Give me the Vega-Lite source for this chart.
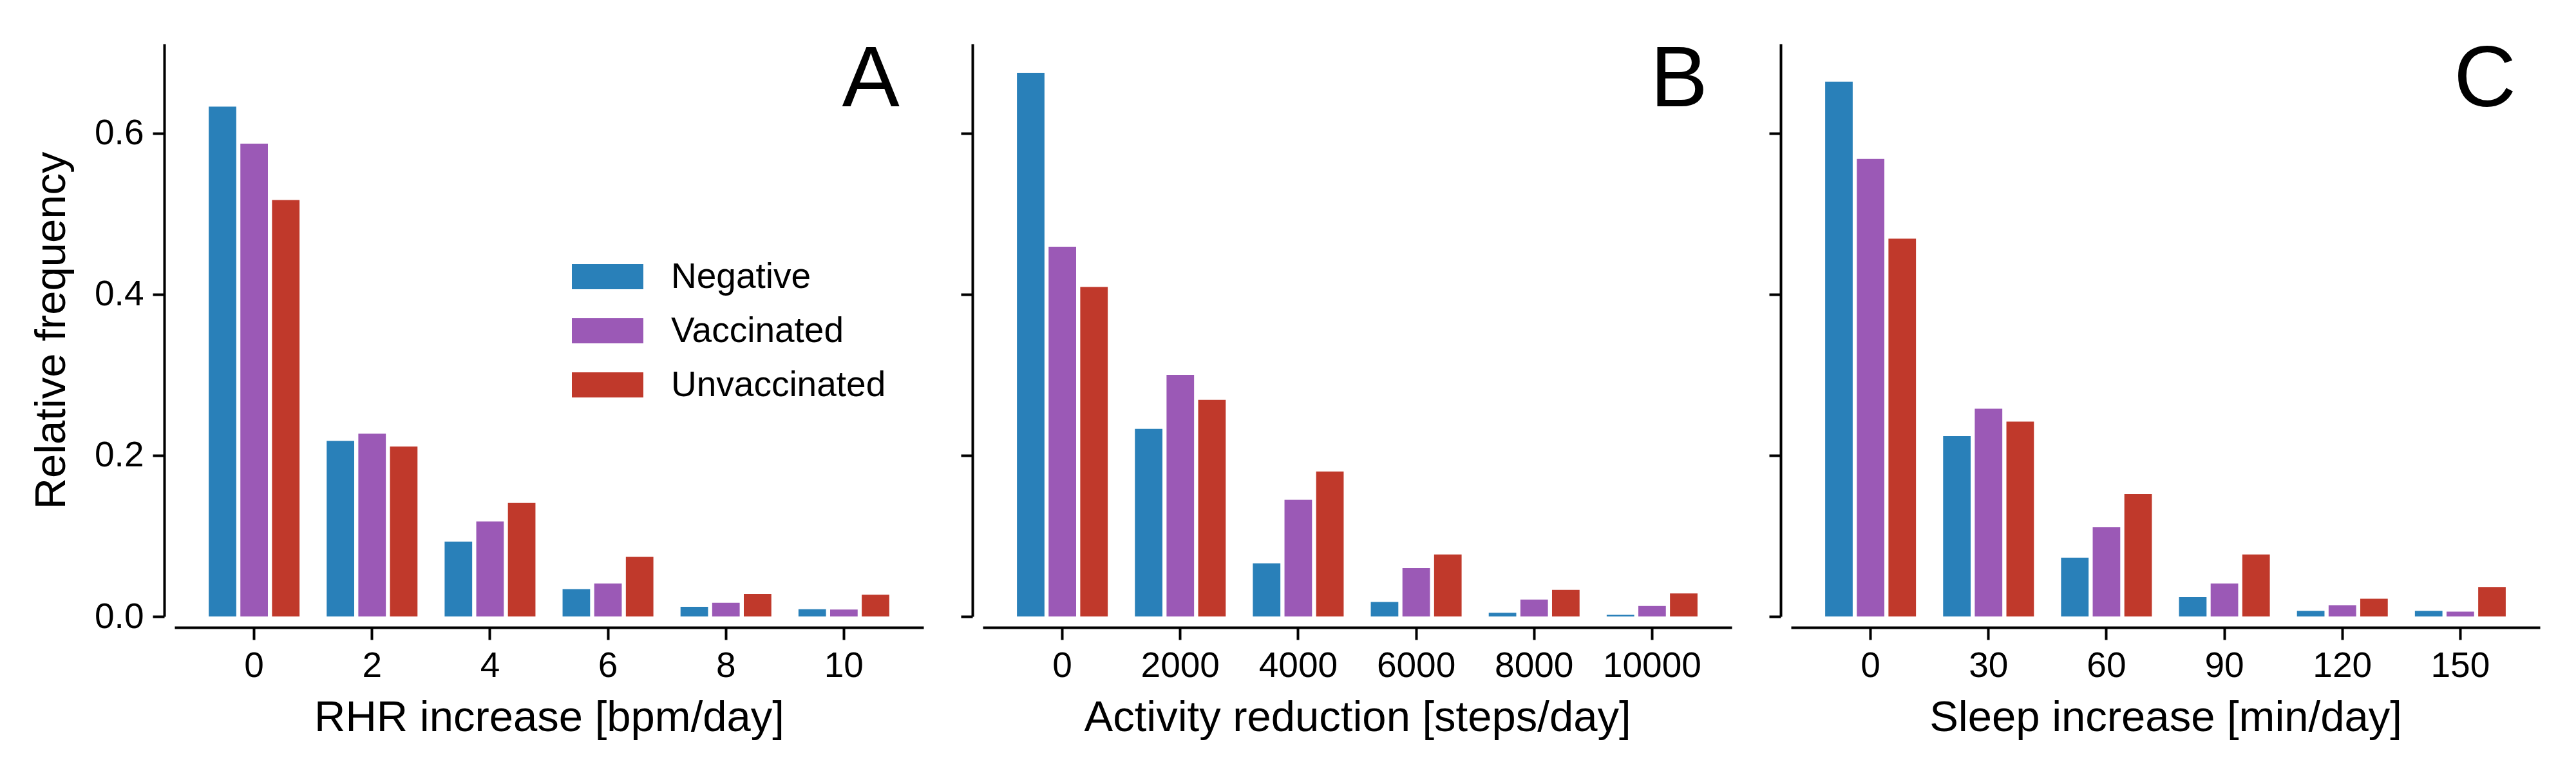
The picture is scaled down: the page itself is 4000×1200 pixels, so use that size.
{
  "$schema": "https://vega.github.io/schema/vega-lite/v6.json",
  "description": "Relative frequency of RHR increase, activity reduction and sleep increase by group.",
  "background": "white",
  "padding": {"left": 46, "top": 58, "right": 10, "bottom": 10},
  "datasets": {
    "freq": [
      {"panel": "A", "bin": 0, "group": "Negative", "freq": 0.633},
      {"panel": "A", "bin": 0, "group": "Vaccinated", "freq": 0.587},
      {"panel": "A", "bin": 0, "group": "Unvaccinated", "freq": 0.517},
      {"panel": "A", "bin": 2, "group": "Negative", "freq": 0.218},
      {"panel": "A", "bin": 2, "group": "Vaccinated", "freq": 0.227},
      {"panel": "A", "bin": 2, "group": "Unvaccinated", "freq": 0.211},
      {"panel": "A", "bin": 4, "group": "Negative", "freq": 0.093},
      {"panel": "A", "bin": 4, "group": "Vaccinated", "freq": 0.118},
      {"panel": "A", "bin": 4, "group": "Unvaccinated", "freq": 0.141},
      {"panel": "A", "bin": 6, "group": "Negative", "freq": 0.034},
      {"panel": "A", "bin": 6, "group": "Vaccinated", "freq": 0.041},
      {"panel": "A", "bin": 6, "group": "Unvaccinated", "freq": 0.074},
      {"panel": "A", "bin": 8, "group": "Negative", "freq": 0.012},
      {"panel": "A", "bin": 8, "group": "Vaccinated", "freq": 0.017},
      {"panel": "A", "bin": 8, "group": "Unvaccinated", "freq": 0.028},
      {"panel": "A", "bin": 10, "group": "Negative", "freq": 0.009},
      {"panel": "A", "bin": 10, "group": "Vaccinated", "freq": 0.0085},
      {"panel": "A", "bin": 10, "group": "Unvaccinated", "freq": 0.027},
      {"panel": "B", "bin": 0, "group": "Negative", "freq": 0.675},
      {"panel": "B", "bin": 0, "group": "Vaccinated", "freq": 0.459},
      {"panel": "B", "bin": 0, "group": "Unvaccinated", "freq": 0.409},
      {"panel": "B", "bin": 2000, "group": "Negative", "freq": 0.233},
      {"panel": "B", "bin": 2000, "group": "Vaccinated", "freq": 0.300},
      {"panel": "B", "bin": 2000, "group": "Unvaccinated", "freq": 0.269},
      {"panel": "B", "bin": 4000, "group": "Negative", "freq": 0.066},
      {"panel": "B", "bin": 4000, "group": "Vaccinated", "freq": 0.145},
      {"panel": "B", "bin": 4000, "group": "Unvaccinated", "freq": 0.180},
      {"panel": "B", "bin": 6000, "group": "Negative", "freq": 0.018},
      {"panel": "B", "bin": 6000, "group": "Vaccinated", "freq": 0.060},
      {"panel": "B", "bin": 6000, "group": "Unvaccinated", "freq": 0.077},
      {"panel": "B", "bin": 8000, "group": "Negative", "freq": 0.0045},
      {"panel": "B", "bin": 8000, "group": "Vaccinated", "freq": 0.021},
      {"panel": "B", "bin": 8000, "group": "Unvaccinated", "freq": 0.033},
      {"panel": "B", "bin": 10000, "group": "Negative", "freq": 0.002},
      {"panel": "B", "bin": 10000, "group": "Vaccinated", "freq": 0.013},
      {"panel": "B", "bin": 10000, "group": "Unvaccinated", "freq": 0.0285},
      {"panel": "C", "bin": 0, "group": "Negative", "freq": 0.664},
      {"panel": "C", "bin": 0, "group": "Vaccinated", "freq": 0.568},
      {"panel": "C", "bin": 0, "group": "Unvaccinated", "freq": 0.469},
      {"panel": "C", "bin": 30, "group": "Negative", "freq": 0.224},
      {"panel": "C", "bin": 30, "group": "Vaccinated", "freq": 0.258},
      {"panel": "C", "bin": 30, "group": "Unvaccinated", "freq": 0.242},
      {"panel": "C", "bin": 60, "group": "Negative", "freq": 0.073},
      {"panel": "C", "bin": 60, "group": "Vaccinated", "freq": 0.111},
      {"panel": "C", "bin": 60, "group": "Unvaccinated", "freq": 0.152},
      {"panel": "C", "bin": 90, "group": "Negative", "freq": 0.024},
      {"panel": "C", "bin": 90, "group": "Vaccinated", "freq": 0.041},
      {"panel": "C", "bin": 90, "group": "Unvaccinated", "freq": 0.077},
      {"panel": "C", "bin": 120, "group": "Negative", "freq": 0.007},
      {"panel": "C", "bin": 120, "group": "Vaccinated", "freq": 0.014},
      {"panel": "C", "bin": 120, "group": "Unvaccinated", "freq": 0.022},
      {"panel": "C", "bin": 150, "group": "Negative", "freq": 0.007},
      {"panel": "C", "bin": 150, "group": "Vaccinated", "freq": 0.006},
      {"panel": "C", "bin": 150, "group": "Unvaccinated", "freq": 0.0365}
    ]
  },
  "data": {"name": "freq"},
  "spacing": 56,
  "hconcat": [
    {
      "width": 1163,
      "height": 889,
      "title": {"text": "A"},
      "transform": [{"filter": "datum.panel === 'A'"}],
      "mark": "bar",
      "encoding": {
        "x": {
          "field": "bin",
          "type": "ordinal",
          "title": "RHR increase [bpm/day]",
          "scale": {"paddingInner": 0.23, "paddingOuter": 0.29}
        },
        "xOffset": {
          "field": "group",
          "sort": ["Negative", "Vaccinated", "Unvaccinated"],
          "scale": {"paddingInner": 0.13, "paddingOuter": 0}
        },
        "y": {
          "field": "freq",
          "type": "quantitative",
          "scale": {"domain": [0, 0.711], "nice": false},
          "axis": {"values": [0, 0.2, 0.4, 0.6], "format": ".1f", "title": "Relative frequency"}
        },
        "color": {
          "field": "group",
          "sort": ["Negative", "Vaccinated", "Unvaccinated"],
          "scale": {"domain": ["Negative", "Vaccinated", "Unvaccinated"], "range": ["#2980b9", "#9b59b6", "#c0392b"]},
          "legend": {
            "orient": "none",
            "legendX": 617,
            "legendY": 306,
            "title": null,
            "symbolType": "M-1,-0.35H1V0.35H-1Z",
            "symbolSize": 12321,
            "symbolStrokeWidth": 0,
            "symbolOpacity": 1,
            "labelFontSize": 55,
            "labelOffset": 43,
            "labelLimit": 0,
            "rowPadding": -8,
            "labelColor": "black"
          }
        }
      }
    },
    {
      "width": 1163,
      "height": 889,
      "title": {"text": "B"},
      "transform": [{"filter": "datum.panel === 'B'"}],
      "mark": "bar",
      "encoding": {
        "x": {
          "field": "bin",
          "type": "ordinal",
          "title": "Activity reduction [steps/day]",
          "scale": {"paddingInner": 0.23, "paddingOuter": 0.29}
        },
        "xOffset": {
          "field": "group",
          "sort": ["Negative", "Vaccinated", "Unvaccinated"],
          "scale": {"paddingInner": 0.13, "paddingOuter": 0}
        },
        "y": {
          "field": "freq",
          "type": "quantitative",
          "scale": {"domain": [0, 0.711], "nice": false},
          "axis": {"values": [0, 0.2, 0.4, 0.6], "labels": false, "title": null}
        },
        "color": {
          "field": "group",
          "sort": ["Negative", "Vaccinated", "Unvaccinated"],
          "scale": {"domain": ["Negative", "Vaccinated", "Unvaccinated"], "range": ["#2980b9", "#9b59b6", "#c0392b"]},
          "legend": {
            "orient": "none",
            "legendX": 617,
            "legendY": 306,
            "title": null,
            "symbolType": "M-1,-0.35H1V0.35H-1Z",
            "symbolSize": 12321,
            "symbolStrokeWidth": 0,
            "symbolOpacity": 1,
            "labelFontSize": 55,
            "labelOffset": 43,
            "labelLimit": 0,
            "rowPadding": -8,
            "labelColor": "black"
          }
        }
      }
    },
    {
      "width": 1163,
      "height": 889,
      "title": {"text": "C"},
      "transform": [{"filter": "datum.panel === 'C'"}],
      "mark": "bar",
      "encoding": {
        "x": {
          "field": "bin",
          "type": "ordinal",
          "title": "Sleep increase [min/day]",
          "scale": {"paddingInner": 0.23, "paddingOuter": 0.29}
        },
        "xOffset": {
          "field": "group",
          "sort": ["Negative", "Vaccinated", "Unvaccinated"],
          "scale": {"paddingInner": 0.13, "paddingOuter": 0}
        },
        "y": {
          "field": "freq",
          "type": "quantitative",
          "scale": {"domain": [0, 0.711], "nice": false},
          "axis": {"values": [0, 0.2, 0.4, 0.6], "labels": false, "title": null}
        },
        "color": {
          "field": "group",
          "sort": ["Negative", "Vaccinated", "Unvaccinated"],
          "scale": {"domain": ["Negative", "Vaccinated", "Unvaccinated"], "range": ["#2980b9", "#9b59b6", "#c0392b"]},
          "legend": {
            "orient": "none",
            "legendX": 617,
            "legendY": 306,
            "title": null,
            "symbolType": "M-1,-0.35H1V0.35H-1Z",
            "symbolSize": 12321,
            "symbolStrokeWidth": 0,
            "symbolOpacity": 1,
            "labelFontSize": 55,
            "labelOffset": 43,
            "labelLimit": 0,
            "rowPadding": -8,
            "labelColor": "black"
          }
        }
      }
    }
  ],
  "config": {
    "font": "Liberation Sans",
    "view": {"stroke": null},
    "axis": {
      "grid": false,
      "domainColor": "black",
      "domainWidth": 4,
      "tickColor": "black",
      "tickWidth": 4,
      "labelColor": "black",
      "titleColor": "black",
      "labelFontSize": 55,
      "titleFontSize": 67,
      "titleFontWeight": "normal",
      "labelFont": "Liberation Sans",
      "titleFont": "Liberation Sans"
    },
    "axisX": {"offset": 17, "tickSize": 19, "labelPadding": 14, "titlePadding": 20, "labelAngle": 0},
    "axisY": {"offset": 16, "tickSize": 18, "labelPadding": 14, "titlePadding": 32},
    "title": {
      "anchor": "end",
      "frame": "group",
      "fontSize": 134,
      "fontWeight": "normal",
      "font": "Liberation Sans",
      "color": "black",
      "baseline": "alphabetic",
      "offset": -125,
      "dx": -37
    }
  }
}
